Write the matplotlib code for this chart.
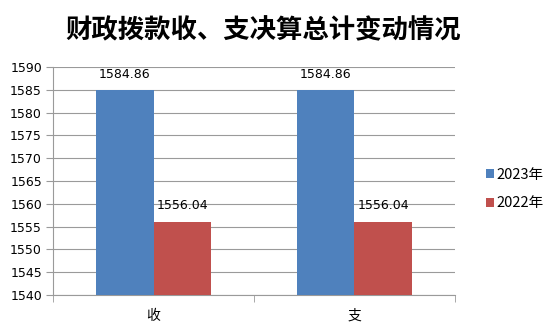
import numpy as np
import matplotlib.pyplot as plt

plt.rcParams['font.family'] = ['Noto Sans CJK SC', 'DejaVu Sans']

categories = ['收', '支']
series_names = ['2023年', '2022年']
values_2023 = [1584.86, 1584.86]
values_2022 = [1556.04, 1556.04]
colors = ['#4F81BD', '#C0504D']

fig = plt.figure(figsize=(5.48, 3.3), dpi=100)
ax = fig.add_axes([0.097, 0.106, 0.733, 0.691])

x = np.arange(len(categories))
w = 0.285
b1 = ax.bar(x - w / 2, values_2023, w, color=colors[0], label=series_names[0], zorder=3)
b2 = ax.bar(x + w / 2, values_2022, w, color=colors[1], label=series_names[1], zorder=3)

for bars in (b1, b2):
    for r in bars:
        ax.annotate(f'{r.get_height():.2f}', (r.get_x() + r.get_width() / 2, r.get_height()),
                    xytext=(0, 7), textcoords='offset points', ha='center', va='bottom',
                    fontsize=9, family=['DejaVu Sans'])

ax.set_ylim(1540, 1590)
ax.set_yticks(np.arange(1540, 1591, 5))
ax.set_xlim(-0.5, len(categories) - 0.5)
ax.set_xticks(x)
ax.set_xticklabels(categories, fontsize=10)
ax.set_xticks([-0.5, 0.5, 1.5], minor=True)
ax.tick_params(axis='x', which='major', length=0, pad=10)
ax.tick_params(axis='x', which='minor', length=5, color='#9A9A9A')
ax.tick_params(axis='y', length=5, color='#9A9A9A', labelsize=9, pad=3)
for lbl in ax.get_yticklabels():
    lbl.set_family(['DejaVu Sans'])

ax.grid(axis='y', color='#9A9A9A', linewidth=0.8, zorder=0)
for s in ('top', 'right'):
    ax.spines[s].set_visible(False)
for s in ('left', 'bottom'):
    ax.spines[s].set_color('#9A9A9A')

fig.text(0.48, 0.908, '财政拨款收、支决算总计变动情况', ha='center', va='center',
         fontsize=19, fontweight='bold')

fig.legend(loc='center left', bbox_to_anchor=(0.862, 0.427), frameon=False,
           fontsize=10.5, handlelength=0.6, handleheight=0.6, handletextpad=0.15,
           labelspacing=1.0)

fig.savefig('out.png', dpi=100)
